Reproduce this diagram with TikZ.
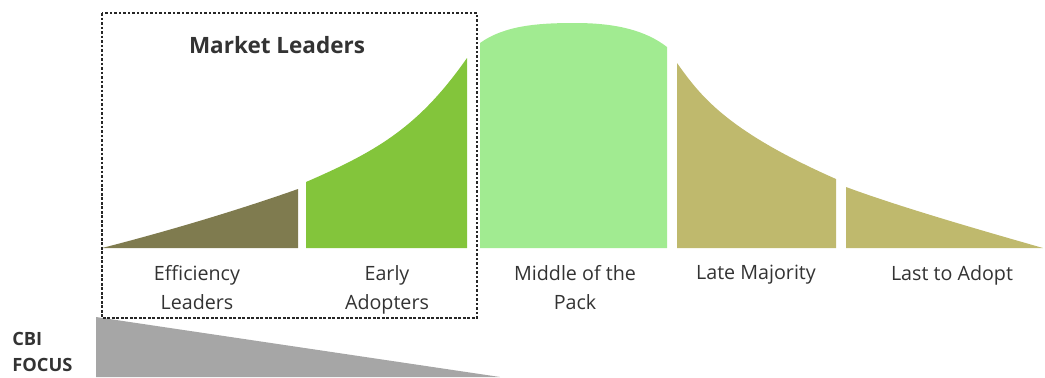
\documentclass[tikz,border=0pt]{standalone}
\usepackage{fontspec}
\setmainfont{Open Sans}
\usepackage{xcolor}
\usepackage{tikz}

\definecolor{effcol}{HTML}{7F7B4F}
\definecolor{earlycol}{HTML}{83C53B}
\definecolor{midcol}{HTML}{A1EB91}
\definecolor{latecol}{HTML}{BFB96D}
\definecolor{focuscol}{HTML}{A6A6A6}
\definecolor{txtcol}{HTML}{333333}

\begin{document}
\begin{tikzpicture}[x=0.025cm, y=-0.025cm,
  seglabel/.style={anchor=north, inner sep=0pt, align=center, text=txtcol, font=\fontsize{14}{20.6}\selectfont},
  boldlabel/.style={inner sep=0pt, text=txtcol, font=\bfseries\fontsize{13}{18.5}\selectfont},
  leaderbox/.style={draw=black!85, line width=1.9pt, dash pattern=on 1.8pt off 1.4pt}]

\useasboundingbox (0,0) rectangle (1045,377);

\fill[focuscol] (96,317) -- (96,377) -- (500,377) -- cycle;

\fill[effcol] (102,248) .. controls (180,228) and (250,206) .. (298,189) -- (298,248) -- cycle;
\fill[earlycol] (306,248) -- (306,182) .. controls (380,150) and (420,125) .. (467,58) -- (467,248) -- cycle;
\fill[midcol] (480,248) -- (480,43) .. controls (505,25) and (540,23) .. (575,23) .. controls (615,23) and (645,30) .. (667,47) -- (667,248) -- cycle;
\fill[latecol] (677,248) -- (677,63) .. controls (700,95) and (725,130) .. (836,179) -- (836,248) -- cycle;
\fill[latecol] (846,248) -- (846,187) .. controls (900,207) and (980,230) .. (1043,248) -- cycle;

\draw[leaderbox] (102,13) rectangle (477,318);

\node[boldlabel, font=\bfseries\fontsize{16}{20}\selectfont, anchor=base] (leaders) at (277,53) {Market Leaders};

\node[seglabel] (eff) at (197,265) {Efficiency\\Leaders};
\node[seglabel] (early) at (387,265) {Early\\Adopters};
\node[seglabel] (middle) at (575,265) {Middle of the\\Pack};
\node[seglabel] (late) at (756,265) {Late Majority};
\node[seglabel] (last) at (952,265) {Last to Adopt};

\node[boldlabel, anchor=north west, align=left] (focus) at (12,332) {CBI\\FOCUS};

\end{tikzpicture}
\end{document}
